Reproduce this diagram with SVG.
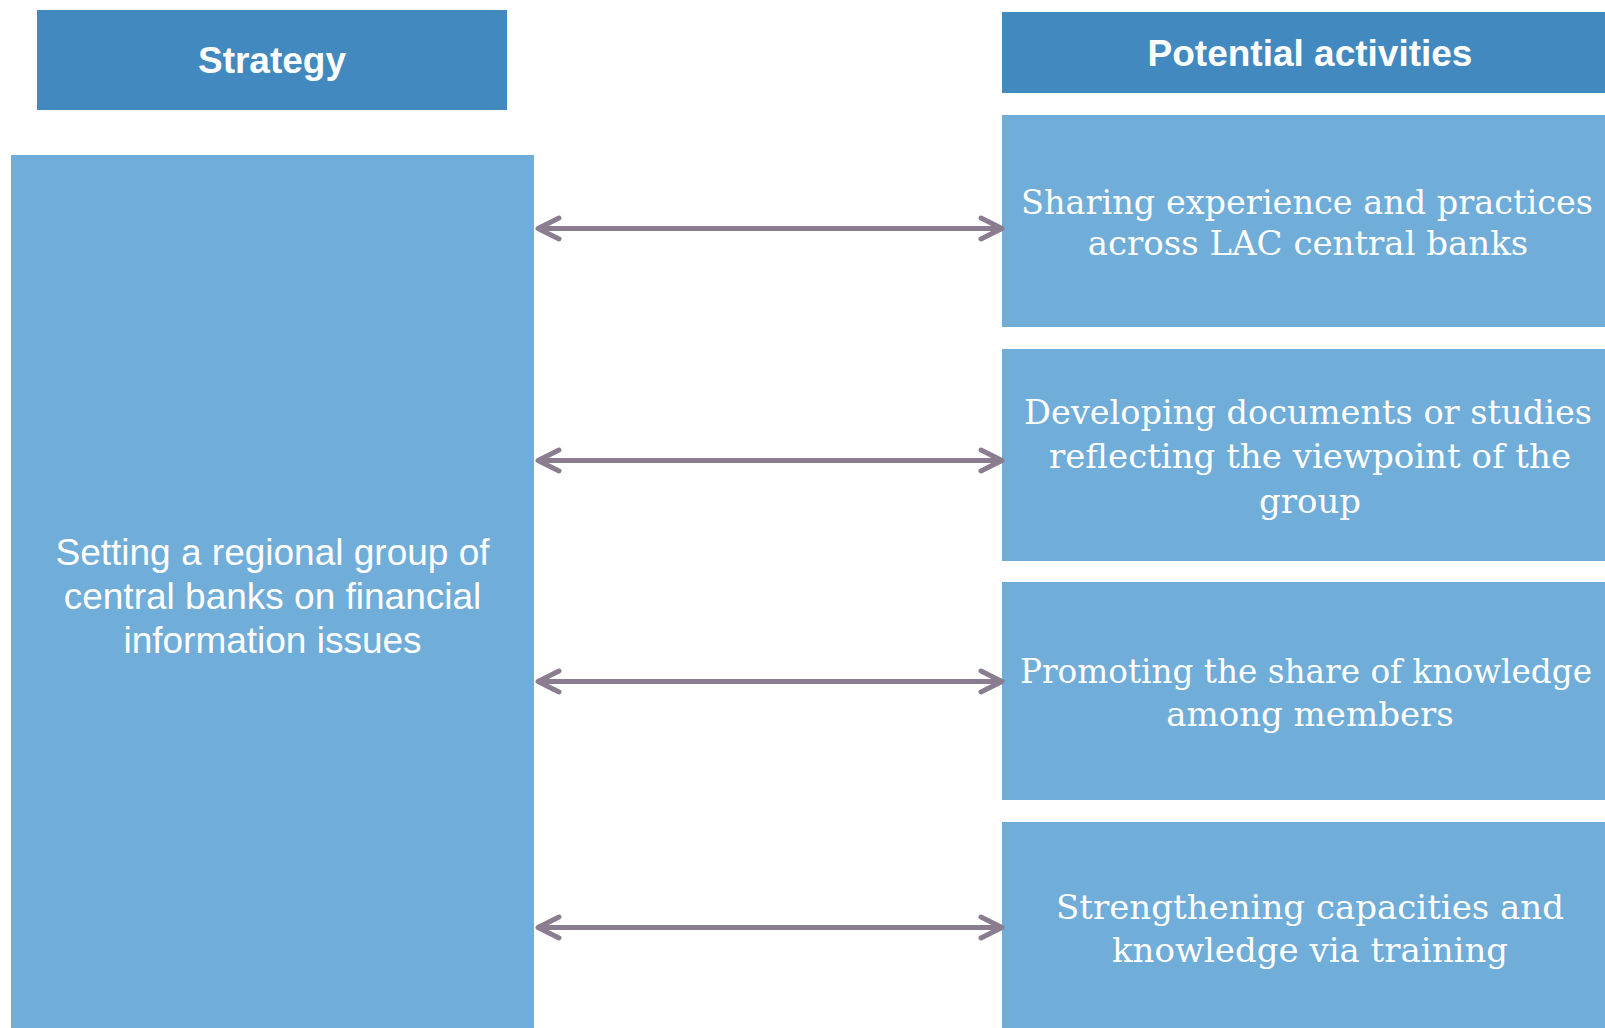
<svg xmlns="http://www.w3.org/2000/svg" width="1605" height="1028" viewBox="0 0 1605 1028">
<defs>
<style>
.hdr{fill:#4189BF}
.box{fill:#70ADD8}
.ht{font-family:"Liberation Sans",Arial,sans-serif;font-weight:bold;font-size:37px;fill:#fff;text-anchor:middle}
.lt{font-family:"Liberation Sans",Arial,sans-serif;font-size:37px;fill:#fff;text-anchor:middle}
.rt{font-family:"DejaVu Serif",serif;font-size:34px;fill:#fff;text-anchor:middle}
.conn{stroke:#8A7D8F;stroke-width:5;fill:none;marker-start:url(#ah);marker-end:url(#ah)}
</style>
<marker id="ah" markerUnits="userSpaceOnUse" viewBox="-26 -14 30 28" refX="0" refY="0" markerWidth="30" markerHeight="28" orient="auto-start-reverse">
<path d="M-21,-10.5 L0,0 L-21,10.5" fill="none" stroke="#8A7D8F" stroke-width="5" stroke-linecap="round" stroke-linejoin="round"/>
</marker>
</defs>
<rect width="1605" height="1028" fill="#fff"/>
<g id="strategy-header">
<rect class="hdr" x="37" y="10" width="470" height="100"/>
<text class="ht" x="272" y="73">Strategy</text>
</g>
<g id="activities-header">
<rect class="hdr" x="1002" y="12" width="603" height="81"/>
<text class="ht" x="1310" y="66">Potential activities</text>
</g>
<g id="strategy">
<rect class="box" x="11" y="155" width="523" height="873"/>
<text class="lt" x="272.5" y="565">Setting a regional group of</text>
<text class="lt" x="272.5" y="609">central banks on financial</text>
<text class="lt" x="272.5" y="653">information issues</text>
</g>
<g id="activity1">
<rect class="box" x="1002" y="115" width="603" height="212"/>
<text class="rt" x="1307" y="214" textLength="572" lengthAdjust="spacingAndGlyphs">Sharing experience and practices</text>
<text class="rt" x="1308" y="255">across LAC central banks</text>
</g>
<g id="activity2">
<rect class="box" x="1002" y="349" width="603" height="212"/>
<text class="rt" x="1308" y="424" textLength="568" lengthAdjust="spacingAndGlyphs">Developing documents or studies</text>
<text class="rt" x="1310" y="468">reflecting the viewpoint of the</text>
<text class="rt" x="1310" y="513">group</text>
</g>
<g id="activity3">
<rect class="box" x="1002" y="582" width="603" height="218"/>
<text class="rt" x="1306" y="683" style="font-size:33px" textLength="572" lengthAdjust="spacingAndGlyphs">Promoting the share of knowledge</text>
<text class="rt" x="1310" y="726">among members</text>
</g>
<g id="activity4">
<rect class="box" x="1002" y="822" width="603" height="206"/>
<text class="rt" x="1310" y="919">Strengthening capacities and</text>
<text class="rt" x="1310" y="962">knowledge via training</text>
</g>
<g id="connectors">
<path class="conn" d="M538,228.5 H1002"/>
<path class="conn" d="M538,460.5 H1002"/>
<path class="conn" d="M538,681.5 H1002"/>
<path class="conn" d="M538,927.5 H1002"/>
</g>
</svg>
